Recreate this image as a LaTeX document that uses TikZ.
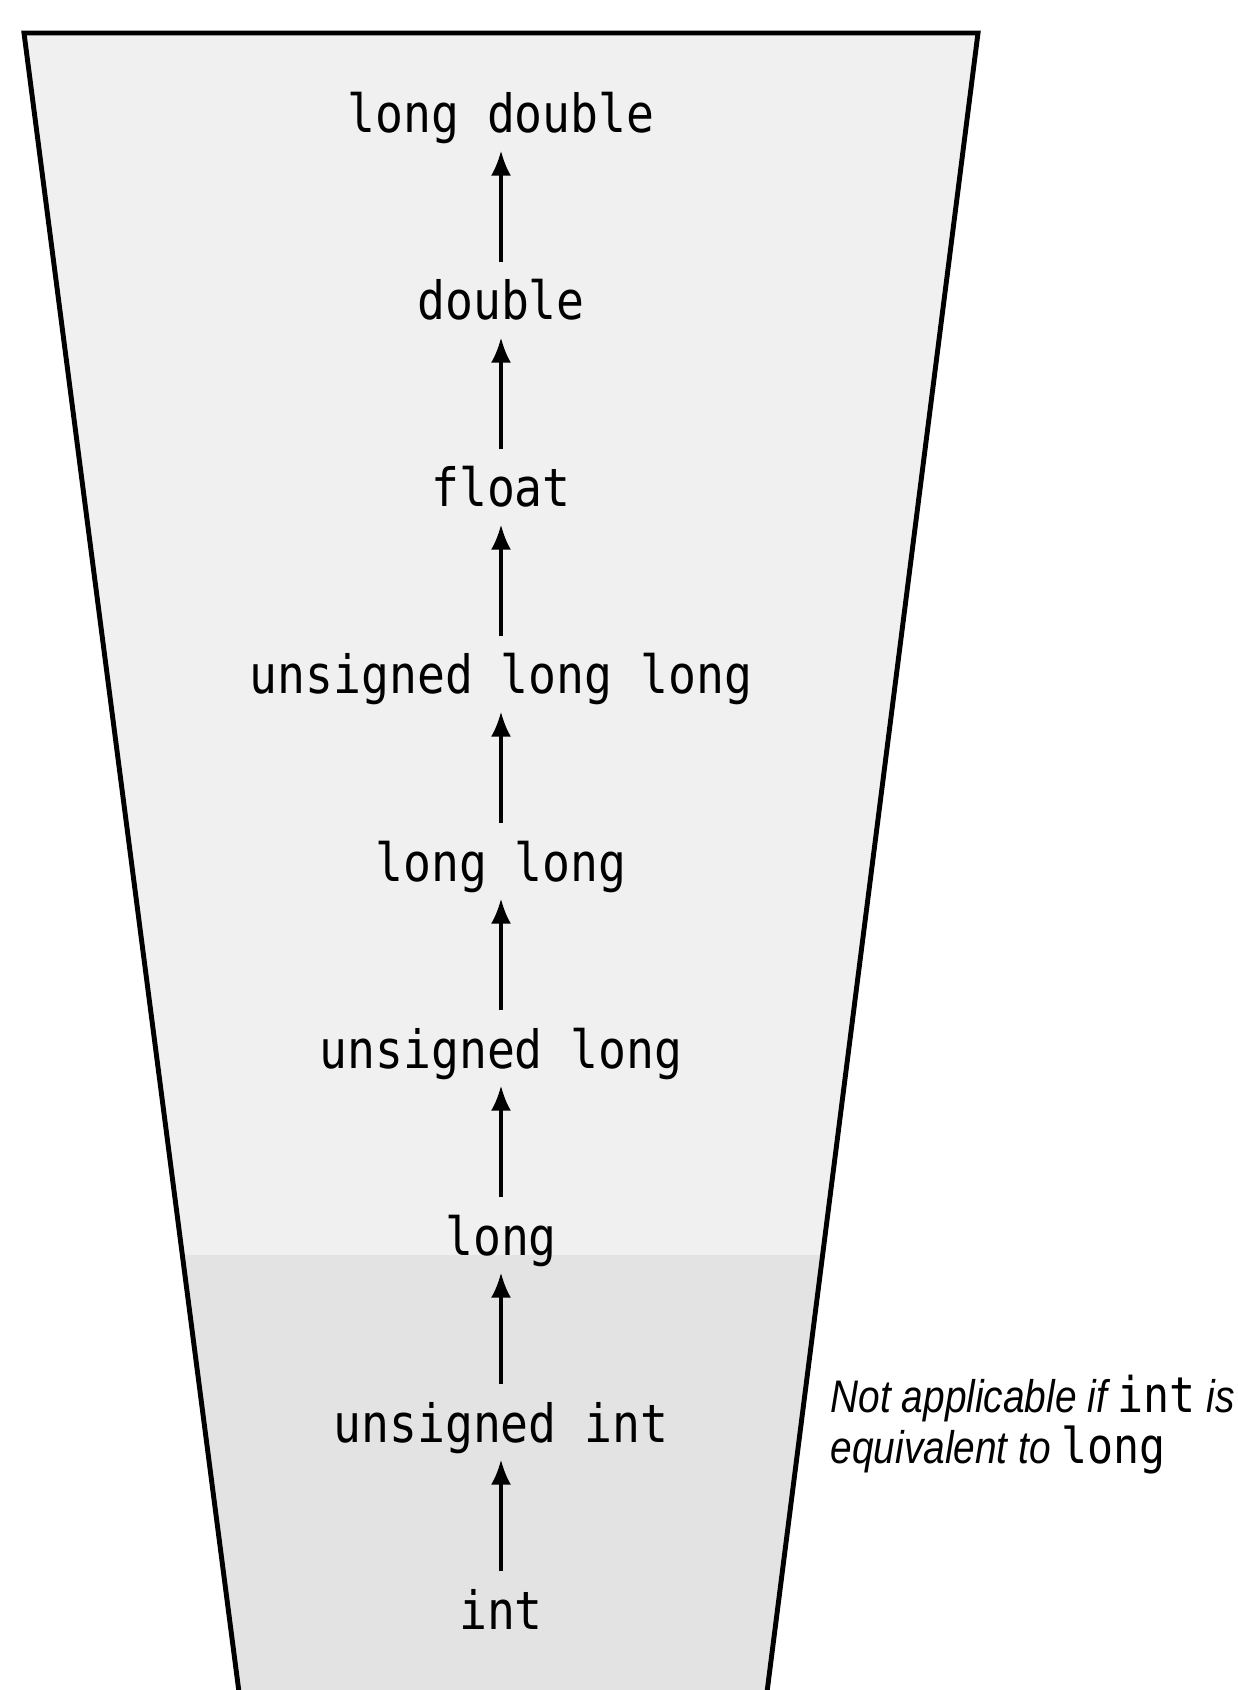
\documentclass[tikz,border=0pt]{standalone}
\usepackage{fontspec}
\usetikzlibrary{arrows.meta}
\newfontfamily\typefont[FakeStretch=0.88]{DejaVu Sans Mono}
\newfontfamily\notefont[FakeStretch=0.85]{Liberation Sans}
\definecolor{upperfill}{gray}{0.94}
\definecolor{lowerfill}{gray}{0.89}

\begin{document}
\begin{tikzpicture}[
    ctype/.style={font=\typefont\fontsize{15}{18}\selectfont, inner sep=0pt, text height=0.47cm, text depth=0.17cm},
    promote/.style={-{Latex[length=0.25cm, width=0.2cm]}, line width=0.9pt, shorten <=0.1cm},
    notetext/.style={font=\notefont\fontsize{13}{14.5}\selectfont\itshape, align=left, inner sep=0pt}
]
\useasboundingbox (0,0) rectangle (12.37,-16.90);

% funnel
\fill[upperfill] (0.24,-0.33) -- (9.78,-0.33) -- (7.66,-17.0) -- (2.40,-17.0) -- cycle;
\begin{scope}
\clip (0.24,-0.33) -- (9.78,-0.33) -- (7.66,-17.0) -- (2.40,-17.0) -- cycle;
\fill[lowerfill] (0,-12.55) rectangle (12.37,-17.0);
\end{scope}
\draw[line width=1.4pt] (2.40,-17.0) -- (0.24,-0.33) -- (9.78,-0.33) -- (7.66,-17.0);

% types
\node[ctype] at (5.01,-1.18) (ldouble) {long double};
\node[ctype] at (5.01,-3.05) (double) {double};
\node[ctype] at (5.01,-4.92) (float) {float};
\node[ctype] at (5.01,-6.79) (ullong) {unsigned long long};
\node[ctype] at (5.01,-8.66) (llong) {long long};
\node[ctype] at (5.01,-10.53) (ulong) {unsigned long};
\node[ctype] at (5.01,-12.40) (long) {long};
\node[ctype] at (5.01,-14.27) (uint) {unsigned int};
\node[ctype] at (5.01,-16.14) (int) {int};

\draw[promote] (double) -- (ldouble);
\draw[promote] (float) -- (double);
\draw[promote] (ullong) -- (float);
\draw[promote] (llong) -- (ullong);
\draw[promote] (ulong) -- (llong);
\draw[promote] (long) -- (ulong);
\draw[promote] (uint) -- (long);
\draw[promote] (int) -- (uint);

% side note
\node[notetext, anchor=base west] at (8.30,-14.63) (note) {Not applicable if {\fontsize{14}{14.5}\selectfont\upshape\typefont int} is\\equivalent to {\fontsize{14}{14.5}\selectfont\upshape\typefont long}};
\end{tikzpicture}
\end{document}
